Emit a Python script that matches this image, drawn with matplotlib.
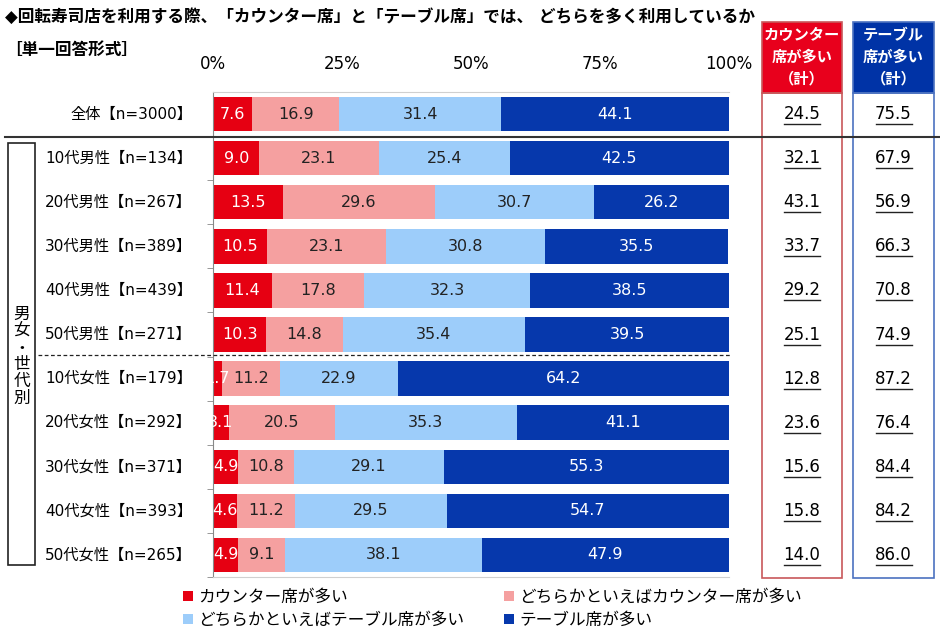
import matplotlib
matplotlib.use("Agg")
import matplotlib.pyplot as plt
from matplotlib.patches import Rectangle, Patch
from matplotlib.lines import Line2D
import numpy as np

plt.rcParams['font.family'] = ['DejaVu Sans', 'Noto Sans CJK JP']

# data
labels = ["全体【n=3000】",
          "10代男性【n=134】", "20代男性【n=267】", "30代男性【n=389】",
          "40代男性【n=439】", "50代男性【n=271】",
          "10代女性【n=179】", "20代女性【n=292】", "30代女性【n=371】",
          "40代女性【n=393】", "50代女性【n=265】"]
counter_more = [7.6, 9.0, 13.5, 10.5, 11.4, 10.3, 1.7, 3.1, 4.9, 4.6, 4.9]
counter_rather = [16.9, 23.1, 29.6, 23.1, 17.8, 14.8, 11.2, 20.5, 10.8, 11.2, 9.1]
table_rather = [31.4, 25.4, 30.7, 30.8, 32.3, 35.4, 22.9, 35.3, 29.1, 29.5, 38.1]
table_more = [44.1, 42.5, 26.2, 35.5, 38.5, 39.5, 64.2, 41.1, 55.3, 54.7, 47.9]
counter_total = [24.5, 32.1, 43.1, 33.7, 29.2, 25.1, 12.8, 23.6, 15.6, 15.8, 14.0]
table_total = [75.5, 67.9, 56.9, 66.3, 70.8, 74.9, 87.2, 76.4, 84.4, 84.2, 86.0]

series = [counter_more, counter_rather, table_rather, table_more]
series_names = ["カウンター席が多い", "どちらかといえばカウンター席が多い",
                "どちらかといえばテーブル席が多い", "テーブル席が多い"]
colors = ["#E60012", "#F5A0A0", "#9DCDFA", "#0638AC"]
text_colors = ["white", "#222222", "#222222", "white"]
xticks = [0, 25, 50, 75, 100]

W, H = 940, 640
fig = plt.figure(figsize=(W/100, H/100), dpi=100)

def fx(x):
    return x / W

def fy(y):
    return 1 - y / H

# main axes in pixel layout
ax_l, ax_r, ax_t, ax_b = 213, 729, 92, 577
ax = fig.add_axes([fx(ax_l), fy(ax_b), fx(ax_r - ax_l), (ax_b - ax_t) / H])

y = np.arange(len(labels))
left = np.zeros(len(labels))
for vals, col, tc in zip(series, colors, text_colors):
    vals = np.array(vals)
    ax.barh(y, vals, left=left, height=0.78, color=col, edgecolor='none')
    for yi, v, l in zip(y, vals, left):
        ax.text(l + v/2, yi, f"{v:.1f}", ha='center', va='center',
                fontsize=11.5, color=tc)
    left += vals

ax.set_xlim(0, 100)
ax.set_ylim(len(labels) - 0.5, -0.5)
ax.set_xticks(xticks)
ax.set_xticklabels([f"{t}%" for t in xticks], fontsize=12)
ax.xaxis.tick_top()
ax.tick_params(axis='x', length=0, pad=14)
ax.set_yticks([])
ax.set_yticks(np.arange(len(labels)) + 0.5, minor=True)
ax.tick_params(axis='y', which='minor', length=4, color='#888888')
for s in ['top', 'bottom']:
    ax.spines[s].set_color('#D0D0D0')
ax.spines['left'].set_color('#888888')
ax.spines['right'].set_visible(False)

# row labels
for yi, lab in zip(y, labels):
    yp = ax_t + (yi + 0.5) * (ax_b - ax_t) / len(labels)
    fig.text(fx(192), fy(yp), lab, ha='right', va='center', fontsize=11)

# title
fig.text(fx(5), fy(17), "◆回転寿司店を利用する際、「カウンター席」と「テーブル席」では、 どちらを多く利用しているか",
         ha='left', va='center', fontsize=12, fontweight='bold')
fig.text(fx(5), fy(50), "［単一回答形式］", ha='left', va='center', fontsize=12, fontweight='bold')

# separators
fig.add_artist(Line2D([fx(5), fx(940)], [fy(137), fy(137)], color='#333333', lw=1.5))
fig.add_artist(Line2D([fx(38), fx(730)], [fy(355), fy(355)], color='#222222', lw=0.9, ls=(0, (3, 2))))

# group box
fig.add_artist(Rectangle((fx(8), fy(565)), fx(27), (565 - 143) / H, fill=False,
                         edgecolor='#222222', lw=1.2))
fig.text(fx(21.5), fy(356), "男\n女\n・\n世\n代\n別", ha='center', va='center',
         fontsize=12, linespacing=0.92)

# summary columns
cols = [(762, 842, "#E8001C", "#C8585A", counter_total),
        (853, 934, "#0033A6", "#4C72C0", table_total)]
for x0, x1, head, edge, totals in cols:
    fig.add_artist(Rectangle((fx(x0), fy(93)), fx(x1 - x0), (93 - 22) / H,
                             facecolor=head, edgecolor=edge, lw=1.2))
    fig.add_artist(Rectangle((fx(x0), fy(578)), fx(x1 - x0), (578 - 93) / H,
                             fill=False, edgecolor=edge, lw=1.2))
    xc = (x0 + x1) / 2
    head_txt = "カウンター\n席が多い\n（計）" if totals is counter_total else "テーブル\n席が多い\n（計）"
    fig.text(fx(xc), fy(57), head_txt, ha='center', va='center', color='white',
             fontsize=11, fontweight='bold', linespacing=1.55)
    for yi, v in zip(y, totals):
        yp = ax_t + (yi + 0.5) * (ax_b - ax_t) / len(labels)
        fig.text(fx(xc), fy(yp), f"{v:.1f}", ha='center', va='center', fontsize=12)
        fig.add_artist(Line2D([fx(xc - 18), fx(xc + 18)], [fy(yp + 10), fy(yp + 10)],
                              color='#222222', lw=1))

# legend
handles = [Patch(facecolor=c, edgecolor='none') for c in colors]
order = [0, 2, 1, 3]
fig.legend([handles[i] for i in order], [series_names[i] for i in order],
           loc='upper left', bbox_to_anchor=(fx(183), fy(588)), ncol=2,
           frameon=False, fontsize=12, handlelength=0.6, handleheight=0.6,
           handletextpad=0.3, columnspacing=2.4, labelspacing=0.3,
           borderpad=0, borderaxespad=0)

fig.savefig("out.png", dpi=100)
